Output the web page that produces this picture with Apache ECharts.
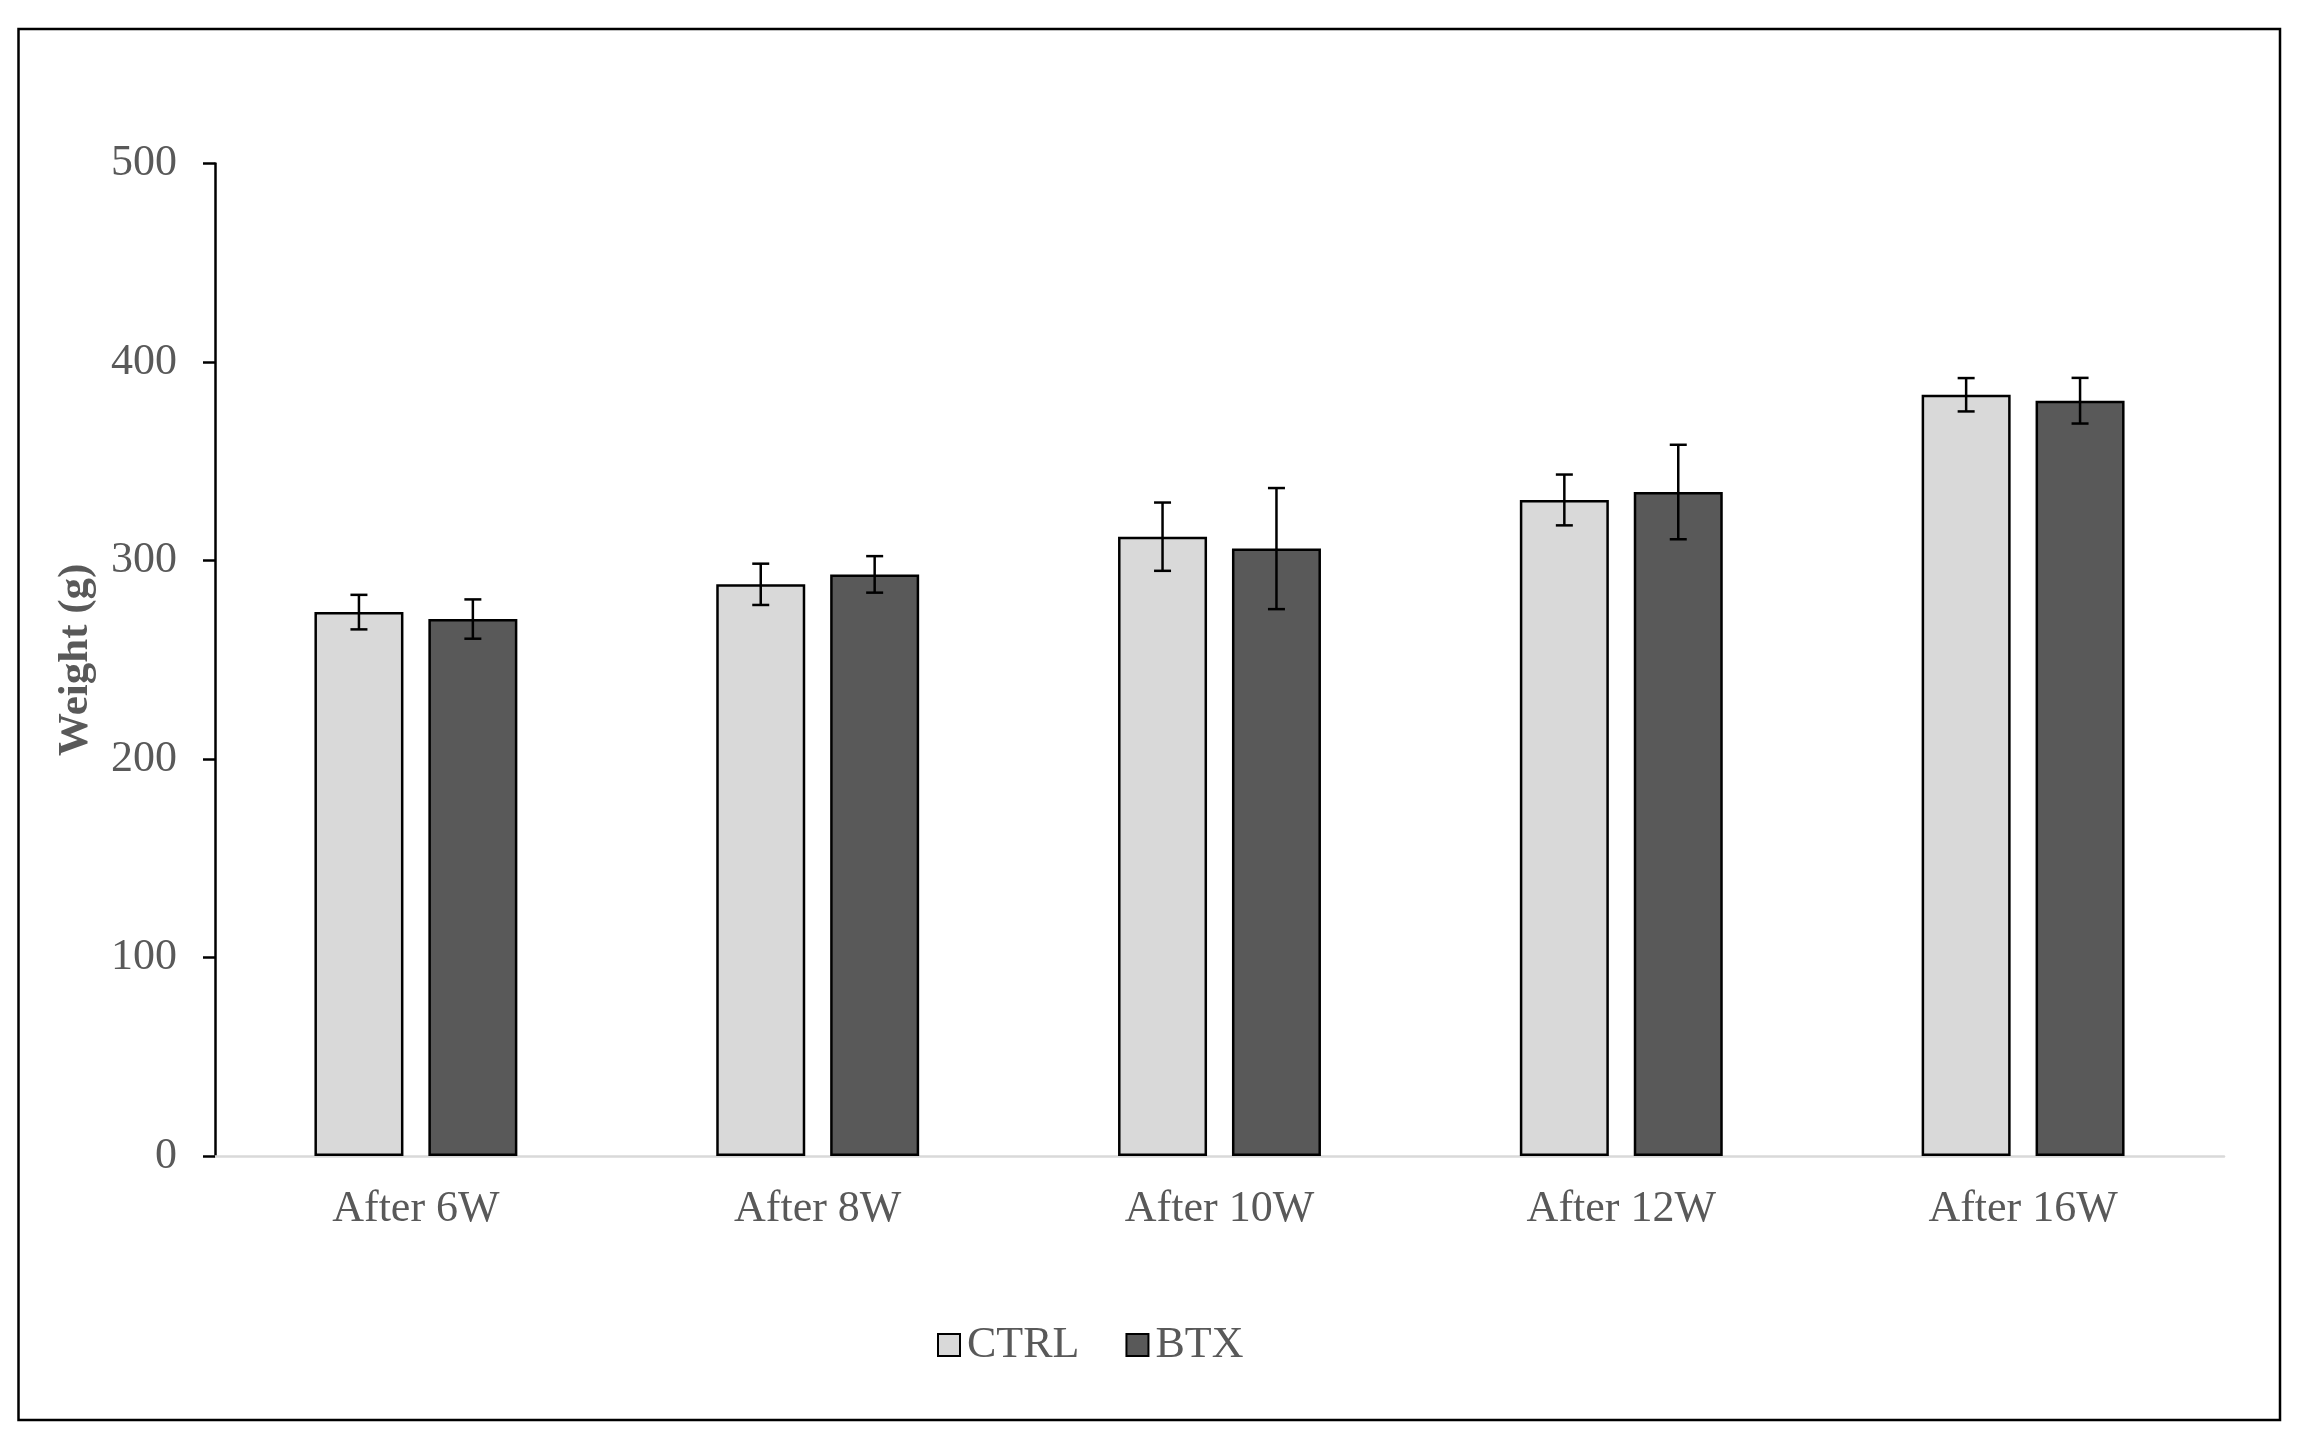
<!DOCTYPE html>
<html>
<head>
<meta charset="utf-8">
<script src="https://cdn.jsdelivr.net/npm/echarts@6/dist/echarts.min.js"></script>
<style>
html,body{margin:0;padding:0;background:#fff;}
#chart{width:2300px;height:1441px;}
</style>
</head>
<body>
<div id="chart"></div>
<script>
const categories = ['After 6W', 'After 8W', 'After 10W', 'After 12W', 'After 16W'];
const ctrlValues = [274, 288, 312, 330.5, 383.5];
const ctrlErrors = [8.7, 10.4, 17.2, 12.8, 8.4];
const btxValues = [270.5, 293, 306, 334.5, 380.5];
const btxErrors = [9.9, 9.2, 30.5, 23.8, 11.5];
const yTicks = [0, 100, 200, 300, 400, 500];

const FONT = 'Liberation Serif';
const TXT = '#595959';
const BAR_W = 89;
const BAR_GAP = 0.28;
const OFFSET = (BAR_W + BAR_GAP * BAR_W) / 2;

function errData(vals, errs) {
  return vals.map((v, i) => [i, v - errs[i], v + errs[i]]);
}
function errSeries(name, vals, errs, dir) {
  return {
    type: 'custom',
    name: name + ' err',
    data: errData(vals, errs),
    encode: { x: 0, y: [1, 2] },
    z: 10,
    silent: true,
    renderItem: function (params, api) {
      const lo = api.coord([api.value(0), api.value(1)]);
      const hi = api.coord([api.value(0), api.value(2)]);
      const x = lo[0] + dir * OFFSET;
      const cap = 8.5;
      const st = { stroke: '#000', lineWidth: 2.5 };
      return {
        type: 'group',
        children: [
          { type: 'line', shape: { x1: x, y1: lo[1], x2: x, y2: hi[1] }, style: st },
          { type: 'line', shape: { x1: x - cap, y1: lo[1], x2: x + cap, y2: lo[1] }, style: st },
          { type: 'line', shape: { x1: x - cap, y1: hi[1], x2: x + cap, y2: hi[1] }, style: st }
        ]
      };
    }
  };
}

const chart = echarts.init(document.getElementById('chart'), null, { renderer: 'canvas' });
chart.setOption({
  animation: false,
  backgroundColor: '#fff',
  textStyle: { fontFamily: FONT },
  graphic: [{
    type: 'rect',
    shape: { x: 18.5, y: 29, width: 2261.5, height: 1391 },
    style: { fill: 'none', stroke: '#000', lineWidth: 2.5 },
    silent: true
  }],
  grid: { left: 215, right: 76, top: 163.5, bottom: 285, containLabel: false },
  legend: {
    left: 932,
    top: 1318,
    itemWidth: 22,
    itemHeight: 22,
    itemGap: 46,
    icon: 'rect',
    textStyle: { fontFamily: FONT, fontSize: 44, color: TXT, padding: [0, 0, 0, 2] },
    data: [
      { name: 'CTRL', itemStyle: { color: '#d9d9d9', borderColor: '#000', borderWidth: 2 } },
      { name: 'BTX', itemStyle: { color: '#595959', borderColor: '#000', borderWidth: 2 } }
    ]
  },
  xAxis: {
    type: 'category',
    data: categories,
    axisLine: { lineStyle: { color: '#d9d9d9', width: 2.5 } },
    axisTick: { show: false },
    axisLabel: { fontFamily: FONT, fontSize: 44, color: TXT, margin: 31 },
    splitLine: { show: false }
  },
  yAxis: {
    type: 'value',
    min: yTicks[0],
    max: yTicks[yTicks.length - 1],
    interval: 100,
    name: 'Weight (g)',
    nameLocation: 'middle',
    nameGap: 118,
    nameTextStyle: { fontFamily: FONT, fontSize: 43, fontWeight: 'bold', color: TXT },
    axisLine: { show: true, lineStyle: { color: '#000', width: 2.5 } },
    axisTick: { show: true, length: 12, lineStyle: { color: '#000', width: 2.5 } },
    axisLabel: { fontFamily: FONT, fontSize: 44, color: TXT, margin: 38 },
    splitLine: { show: false }
  },
  series: [
    {
      type: 'bar', name: 'CTRL', data: ctrlValues,
      barWidth: BAR_W, barGap: (BAR_GAP * 100) + '%',
      itemStyle: { color: '#d9d9d9', borderColor: '#000', borderWidth: 2.5 }
    },
    {
      type: 'bar', name: 'BTX', data: btxValues,
      barWidth: BAR_W, barGap: (BAR_GAP * 100) + '%',
      itemStyle: { color: '#595959', borderColor: '#000', borderWidth: 2.5 }
    },
    errSeries('CTRL', ctrlValues, ctrlErrors, -1),
    errSeries('BTX', btxValues, btxErrors, 1)
  ]
});
</script>
</body>
</html>
